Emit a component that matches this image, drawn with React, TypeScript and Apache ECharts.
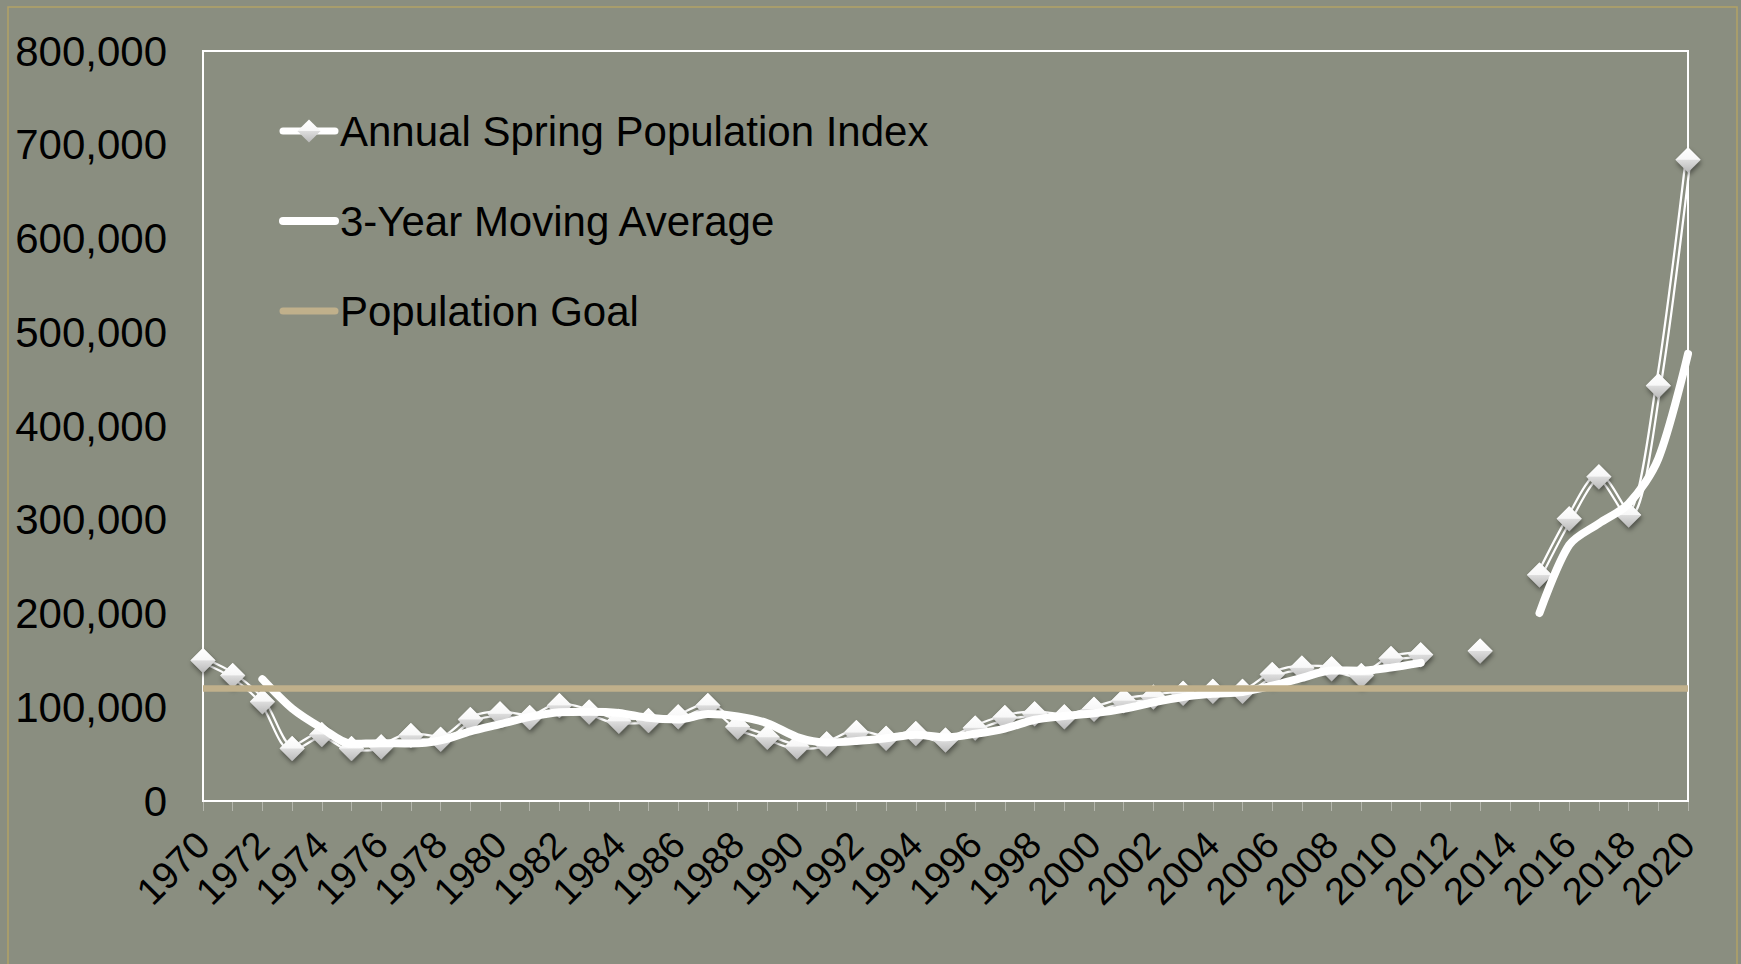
import React, { useEffect, useRef } from "react";
import * as echarts from "echarts";

const years = [
  "1970", "1971", "1972", "1973", "1974", "1975", "1976", "1977", "1978", "1979",
  "1980", "1981", "1982", "1983", "1984", "1985", "1986", "1987", "1988", "1989",
  "1990", "1991", "1992", "1993", "1994", "1995", "1996", "1997", "1998", "1999",
  "2000", "2001", "2002", "2003", "2004", "2005", "2006", "2007", "2008", "2009",
  "2010", "2011", "2012", "2013", "2014", "2015", "2016", "2017", "2018", "2019",
  "2020",
];

const annualIndex = [
  150000, 134000, 106000, 56000, 71000, 56000, 58000, 70000, 66000, 87000,
  93000, 89000, 102000, 95000, 85000, 86000, 90000, 102000, 79000, 68000,
  58000, 61000, 73000, 67000, 72000, 65000, 78000, 89000, 93000, 90000,
  98000, 107000, 111000, 115000, 117000, 117000, 135000, 142000, 141000, 134000,
  152000, 156000, null, 160000, null, 241000, 301000, 346000, 305000, 443000,
  684000,
];

const movingAverage = [
  null, null, 130000, 98700, 77700, 61000, 61700, 61300, 64700, 74300,
  82000, 89700, 94700, 95300, 94000, 88700, 87000, 92700, 90300, 83000,
  68300, 62300, 64000, 67000, 70700, 68000, 71700, 77300, 86700, 90700,
  93700, 98300, 105300, 111000, 114300, 116300, 123000, 131300, 139300, 139000,
  142300, 147300, null, null, null, 200500, 273000, 296000, 317000, 365000,
  477000,
];

const populationGoal = [
  120000, 120000, 120000, 120000, 120000, 120000, 120000, 120000, 120000, 120000,
  120000, 120000, 120000, 120000, 120000, 120000, 120000, 120000, 120000, 120000,
  120000, 120000, 120000, 120000, 120000, 120000, 120000, 120000, 120000, 120000,
  120000, 120000, 120000, 120000, 120000, 120000, 120000, 120000, 120000, 120000,
  120000, 120000, 120000, 120000, 120000, 120000, 120000, 120000, 120000, 120000,
  120000,
];

const seriesNames = ["Annual Spring Population Index", "3-Year Moving Average", "Population Goal"];

const FONT = "'Liberation Sans', Arial, Helvetica, sans-serif";
const BG = "#8a8e80";
const GOAL_COLOR = "#c0b08b";

export default function App() {
  const ref = useRef<HTMLDivElement>(null);

  useEffect(() => {
    const chart = echarts.init(ref.current!, null, { renderer: "svg" });

    const diamondFill = new echarts.graphic.LinearGradient(0, 0, 0, 1, [
      { offset: 0, color: "#ffffff" },
      { offset: 0.48, color: "#f7f7f7" },
      { offset: 0.52, color: "#dcdcdc" },
      { offset: 1, color: "#b9b9b9" },
    ]);

    chart.setOption({
      animation: false,
      backgroundColor: BG,
      textStyle: { fontFamily: FONT },
      graphic: [
        {
          type: "rect",
          shape: { x: 8, y: 7, width: 1729, height: 970 },
          style: { fill: "none", stroke: "#b3a365", lineWidth: 1.5 },
          silent: true,
        },
      ],
      grid: {
        left: 203,
        right: 53,
        top: 51,
        bottom: 163,
        show: true,
        borderColor: "#ffffff",
        borderWidth: 2,
        backgroundColor: "transparent",
      },
      legend: {
        data: [
          { name: seriesNames[0], lineStyle: { width: 7, cap: "round" } },
          {
            name: seriesNames[1],
            lineStyle: { width: 8, cap: "round", color: "#ffffff" },
            itemStyle: { opacity: 0 },
          },
          {
            name: seriesNames[2],
            lineStyle: { width: 7, cap: "round", color: GOAL_COLOR },
            itemStyle: { opacity: 0 },
          },
        ],
        orient: "vertical",
        left: 279,
        top: 106,
        padding: 0,
        itemWidth: 52,
        itemHeight: 29,
        itemGap: 40,
        textStyle: { fontSize: 42, color: "#000", fontFamily: FONT, lineHeight: 50 },
        selectedMode: false,
      },
      xAxis: {
        type: "category",
        data: years,
        boundaryGap: false,
        axisLine: { show: true, lineStyle: { color: "#ffffff", width: 2 } },
        axisTick: {
          show: true,
          interval: 0,
          length: 10,
          lineStyle: { color: "rgba(255,255,255,0.35)", width: 1 },
        },
        axisLabel: {
          interval: 1,
          rotate: 45,
          fontSize: 38,
          color: "#000",
          fontFamily: FONT,
          margin: 37,
        },
        splitLine: { show: false },
      },
      yAxis: {
        type: "value",
        min: 0,
        max: 800000,
        interval: 100000,
        axisLine: { show: false },
        axisTick: { show: false },
        splitLine: { show: false },
        axisLabel: {
          fontSize: 42,
          color: "#000",
          fontFamily: FONT,
          margin: 36,
          formatter: (v: number) => v.toLocaleString("en-US"),
        },
      },
      series: [
        {
          name: seriesNames[0],
          type: "line",
          data: annualIndex,
          smooth: 0.3,
          connectNulls: false,
          symbol: "diamond",
          symbolSize: 25,
          showAllSymbol: true,
          lineStyle: { color: "#ffffff", width: 7 },
          itemStyle: { color: diamondFill, borderWidth: 0 },
          emphasis: { disabled: true },
          silent: true,
          z: 2,
        },
        {
          name: "annual-inner",
          type: "line",
          data: annualIndex,
          smooth: 0.3,
          connectNulls: false,
          symbol: "none",
          lineStyle: { color: BG, width: 2.5 },
          emphasis: { disabled: true },
          silent: true,
          z: 2,
        },
        {
          name: "annual-markers",
          type: "line",
          data: annualIndex,
          connectNulls: false,
          symbol: "diamond",
          symbolSize: 25,
          showAllSymbol: true,
          lineStyle: { width: 0, opacity: 0 },
          itemStyle: {
            color: diamondFill,
            borderWidth: 0,
            shadowColor: "rgba(0,0,0,0.45)",
            shadowBlur: 5,
            shadowOffsetX: 1,
            shadowOffsetY: 3,
          },
          emphasis: { disabled: true },
          silent: true,
          z: 2,
        },
        {
          name: seriesNames[1],
          type: "line",
          data: movingAverage,
          smooth: 0.3,
          connectNulls: false,
          symbol: "none",
          lineStyle: { color: "#ffffff", width: 8, cap: "round" },
          itemStyle: { color: "#ffffff" },
          emphasis: { disabled: true },
          silent: true,
          z: 3,
        },
        {
          name: seriesNames[2],
          type: "line",
          data: populationGoal,
          symbol: "none",
          lineStyle: { color: GOAL_COLOR, width: 6.5 },
          itemStyle: { color: GOAL_COLOR },
          emphasis: { disabled: true },
          silent: true,
          z: 4,
        },
      ],
    });

    return () => chart.dispose();
  }, []);

  return (
    <div
      ref={ref}
      style={{ position: "fixed", left: 0, top: 0, width: 1741, height: 964 }}
    />
  );
}
